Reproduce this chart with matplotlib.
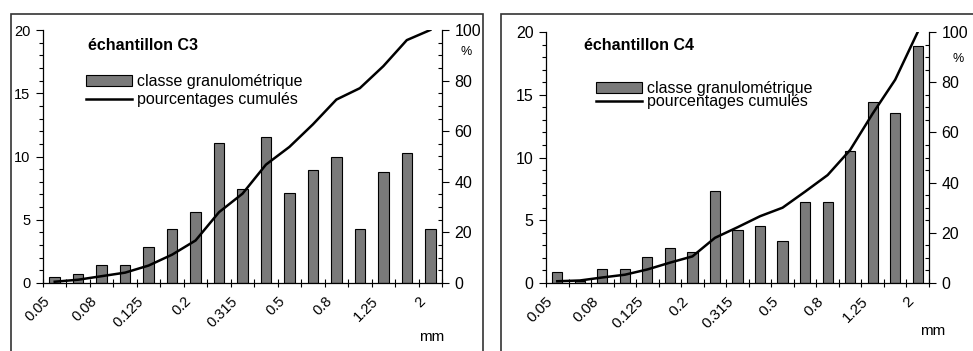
import numpy as np
import matplotlib
matplotlib.use("Agg")
import matplotlib.pyplot as plt
from matplotlib.patches import Rectangle

plt.rcParams["font.family"] = ["Liberation Sans", "DejaVu Sans"]

# classes granulométriques (mm) - labels on every second boundary
size_labels = ["0.05", "0.08", "0.125", "0.2", "0.315", "0.5", "0.8", "1.25", "2"]

# échantillon C3 : % par classe et pourcentages cumulés
c3_classes = [0.5, 0.75, 1.4, 1.4, 2.85, 4.3, 5.65, 11.05, 7.4, 11.55,
              7.15, 8.95, 9.95, 4.3, 8.75, 10.3, 4.3]
c3_cumul = [0.5, 1.3, 2.7, 4.1, 6.9, 11.2, 16.8, 28.0, 35.3, 46.8,
            53.8, 62.7, 72.5, 77.0, 85.7, 96.0, 100.0]

# échantillon C4
c4_classes = [0.9, 0.15, 1.15, 1.15, 2.05, 2.75, 2.5, 7.3, 4.25, 4.55,
              3.35, 6.45, 6.45, 10.5, 14.45, 13.55, 18.9]
c4_cumul = [0.7, 1.0, 2.2, 3.3, 5.4, 8.1, 10.6, 18.0, 22.2, 26.6,
            30.0, 36.4, 43.0, 53.0, 67.5, 81.0, 100.0]

W, H = 973, 351
fig = plt.figure(figsize=(W / 100, H / 100), dpi=100)
fig.patch.set_facecolor("white")


def fx(px):
    return px / W


def fy(py):
    return 1 - py / H


def panel(values, cumul, title, box, frame, title_xy, leg_xy, lspace,
          pct_xy, mm_xy, fs_left, fs_right, fs_x):
    x0, yt, x1, yb = box
    ax = fig.add_axes([fx(x0), fy(yb), (x1 - x0) / W, (yb - yt) / H])
    pos = np.arange(len(values)) + 0.5

    bars = ax.bar(pos, values, width=0.45, color="#7a7a7a",
                  edgecolor="black", linewidth=0.8)
    ax.set_xlim(0, len(values))
    ax.set_ylim(0, 20)

    ax2 = ax.twinx()
    line, = ax2.plot(pos, cumul, color="black", linewidth=1.8)
    ax2.set_ylim(0, 100)

    for a in (ax, ax2):
        a.spines["top"].set_visible(False)
        for s in a.spines.values():
            s.set_linewidth(0.9)
    ax.spines["right"].set_visible(False)
    ax2.spines["left"].set_visible(False)
    ax2.spines["bottom"].set_visible(False)

    # axe x : graduations aux limites de classe
    ax.set_xticks(np.arange(0, len(values), 2))
    ax.set_xticklabels(size_labels, rotation=45, ha="right",
                       rotation_mode="anchor", fontsize=fs_x)
    ax.set_xticks(np.arange(0, len(values) + 1), minor=True)
    ax.tick_params(axis="x", which="both", direction="inout", length=6,
                   width=0.8, pad=5)

    ax.set_yticks(range(0, 21, 5))
    ax.set_yticks(range(0, 21), minor=True)
    ax.tick_params(axis="y", which="major", direction="out", length=5,
                   width=0.8, pad=4, labelsize=fs_left)
    ax.tick_params(axis="y", which="minor", direction="out", length=3,
                   width=0.8)

    ax2.set_yticks(range(0, 101, 20))
    ax2.set_yticks(range(0, 101, 5), minor=True)
    ax2.tick_params(axis="y", which="major", direction="out", length=5,
                    width=0.8, pad=4, labelsize=fs_right)
    ax2.tick_params(axis="y", which="minor", direction="in", length=3,
                    width=0.8)

    # cadre du graphique
    fx0, fx1, ftop = frame
    fig.add_artist(Rectangle((fx(fx0), -0.1), fx(fx1) - fx(fx0), fy(ftop) + 0.1,
                             transform=fig.transFigure, fill=False,
                             edgecolor="#333333", linewidth=1.2))

    fig.text(fx(title_xy[0]), fy(title_xy[1]), title, fontsize=11.5,
             fontweight="bold", ha="left", va="center")

    fig.legend([bars, line], ["classe granulométrique", "pourcentages cumulés"],
               loc="upper left", bbox_to_anchor=(fx(leg_xy[0]), fy(leg_xy[1])),
               frameon=False, borderpad=0, borderaxespad=0, fontsize=11.5,
               handlelength=2.9, handletextpad=0.3, labelspacing=lspace)

    fig.text(fx(pct_xy[0]), fy(pct_xy[1]), "%", fontsize=9,
             ha="center", va="center")
    fig.text(fx(mm_xy[0]), fy(mm_xy[1]), "mm", fontsize=11,
             ha="center", va="center")


panel(c3_classes, c3_cumul, "échantillon C3",
      box=(43, 30, 442, 283), frame=(11, 483, 14),
      title_xy=(88, 45), leg_xy=(86, 74), lspace=0.2,
      pct_xy=(466, 52), mm_xy=(432, 337),
      fs_left=10.5, fs_right=11.5, fs_x=10.5)

panel(c4_classes, c4_cumul, "échantillon C4",
      box=(546, 32, 929, 283), frame=(501, 1000, 14),
      title_xy=(584, 45), leg_xy=(596, 81), lspace=-0.1,
      pct_xy=(958, 59), mm_xy=(933, 331),
      fs_left=11.5, fs_right=11.5, fs_x=11)

fig.savefig("out.png", dpi=100, facecolor="white")
